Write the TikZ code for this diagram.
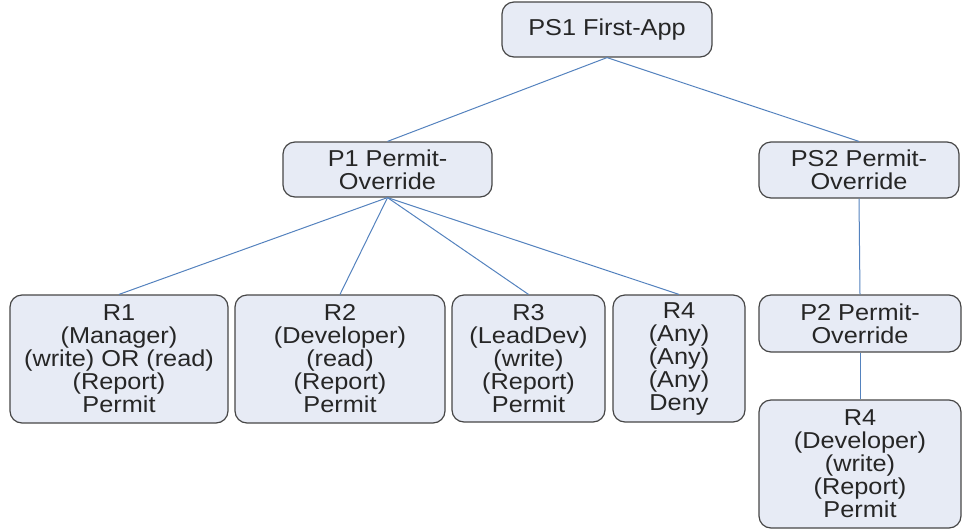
\documentclass[tikz,border=0pt]{standalone}
\usepackage{fontspec}
\setmainfont[FakeStretch=1.1]{Liberation Sans}
\definecolor{boxfill}{RGB}{231,235,245}
\definecolor{boxline}{RGB}{70,70,70}
\definecolor{edgeblue}{RGB}{84,130,190}
\tikzset{
    pbox/.style={draw=boxline, line width=1.2pt, fill=boxfill, rounded corners=12pt,
        inner sep=0pt, align=center, text=black!85,
        font=\fontsize{23}{23}\selectfont},
    edge/.style={edgeblue, line width=1pt}
}

\begin{document}
\begin{tikzpicture}[x=1pt,y=-1pt]
    \useasboundingbox (0,0) rectangle (964,531);
    % top level
    \node[pbox, minimum width=210pt, minimum height=55pt] (ps1) at (607,29.5) {PS1 First-App};
    \node[pbox, minimum width=209pt, minimum height=55pt] (p1) at (387.5,169.5) {P1 Permit-\\Override};
    \node[pbox, minimum width=200pt, minimum height=56pt] (ps2) at (859,170) {PS2 Permit-\\Override};
    % rules under P1
    \node[pbox, minimum width=218pt, minimum height=128pt] (r1) at (119,359) {R1\\(Manager)\\(write) OR (read)\\(Report)\\Permit};
    \node[pbox, minimum width=210pt, minimum height=128pt] (r2) at (340,359) {R2\\(Developer)\\(read)\\(Report)\\Permit};
    \node[pbox, minimum width=153pt, minimum height=127pt] (r3) at (528.5,358.5) {R3\\(LeadDev)\\(write)\\(Report)\\Permit};
    \node[pbox, minimum width=132pt, minimum height=127pt] (r4) at (679,358.5) {R4\\(Any)\\(Any)\\(Any)\\Deny};
    % right branch
    \node[pbox, minimum width=202pt, minimum height=57pt] (p2) at (860,323.5) {P2 Permit-\\Override};
    \node[pbox, minimum width=202pt, minimum height=128pt] (r4b) at (860,464) {R4\\(Developer)\\(write)\\(Report)\\Permit};

    \begin{scope}[on background layer/.try]
        \draw[edge] (ps1.south) -- (p1.north);
        \draw[edge] (ps1.south) -- (ps2.north);
        \foreach \r in {r1,r2,r3,r4}{
            \draw[edge] (p1.south) -- (\r.north);
        }
        \draw[edge] (ps2.south) -- (p2.north);
        \draw[edge] (p2.south) -- (r4b.north);
    \end{scope}
\end{tikzpicture}
\end{document}
